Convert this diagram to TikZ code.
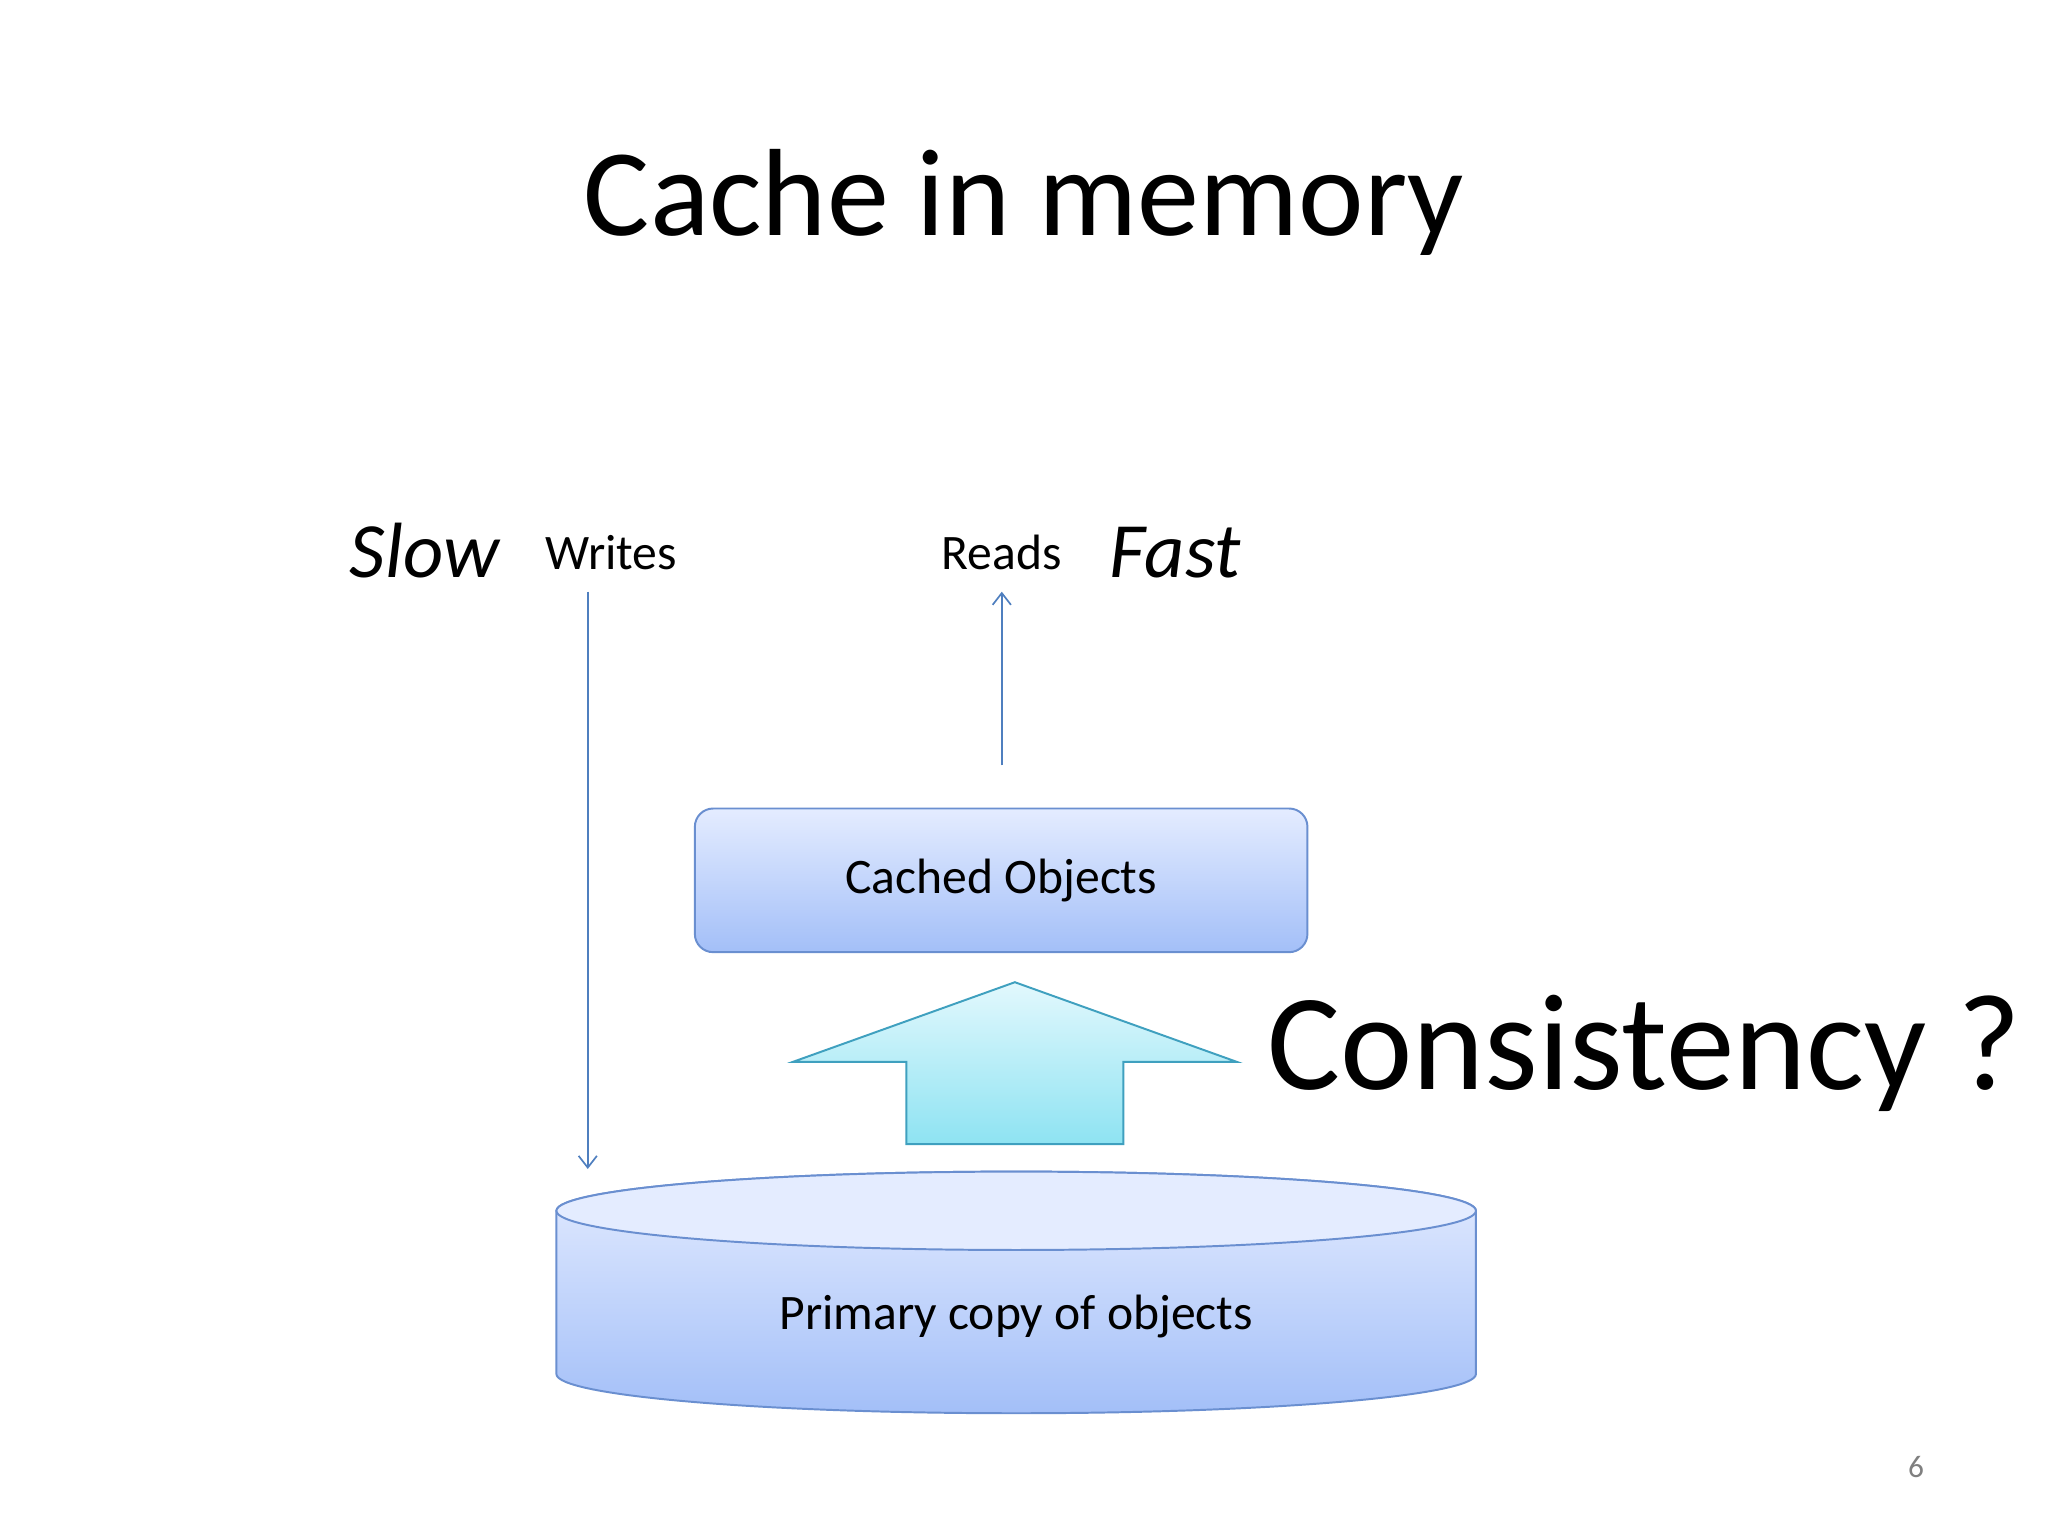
\documentclass[tikz,border=0pt]{standalone}
\usepackage{fontspec}
\setmainfont{Carlito}
\usetikzlibrary{arrows.meta}
\definecolor{bord}{HTML}{6A8FD0}
\definecolor{boxtop}{HTML}{E4ECFF}
\definecolor{boxbot}{HTML}{A3BFF8}
\definecolor{arrtop}{HTML}{E2F8FD}
\definecolor{arrbot}{HTML}{8EE3F2}
\definecolor{arrbord}{HTML}{3FA0BF}
\definecolor{lin}{HTML}{4F7FBF}
\begin{document}
\begin{tikzpicture}[x=1pt,y=-1pt,
  conn/.style={draw=lin,line width=1.3pt,-{Straight Barb[length=9pt,width=14pt]}},
  lbl/.style={inner sep=0pt,anchor=base}]
\useasboundingbox (0,0) rectangle (1568,1176);
\node[lbl,font=\fontsize{95}{95}\selectfont] (title) at (784,180) {Cache in memory};
\node[lbl,font=\fontsize{60}{60}\itshape] (slow) at (325,442) {Slow};
\node[lbl,font=\fontsize{60}{60}\itshape] (fast) at (900,442) {Fast};
\node[lbl,font=\fontsize{38}{38}\selectfont] (writes) at (468,436) {Writes};
\node[lbl,font=\fontsize{38}{38}\selectfont] (reads) at (767,436) {Reads};
% cached box
\node[draw=bord,line width=1.5pt,rounded corners=14pt,top color=boxtop,bottom color=boxbot,
  minimum width=469pt,minimum height=110pt,font=\fontsize{38}{38}\selectfont] (cache) at (766.5,674) {Cached Objects};
% big arrow
\shade[top color=arrtop,bottom color=arrbot,draw=arrbord,line width=1.5pt]
  (607,813) -- (777,752) -- (947,813) -- (860,813) -- (860,876) -- (694,876) -- (694,813) -- cycle;
\node[lbl,font=\fontsize{105}{105}\selectfont] (cons) at (1259,834) {Consistency ?};
% cylinder
\shade[top color=boxtop,bottom color=boxbot,draw=bord,line width=1.5pt]
  (426,927) -- (426,1052) arc[start angle=180,end angle=360,x radius=352pt,y radius=30pt]
  -- (1130,927) arc[start angle=0,end angle=180,x radius=352pt,y radius=30pt];
\draw[draw=bord,line width=1.5pt,fill=boxtop] (778,927) ellipse[x radius=352pt,y radius=30pt];
\node[lbl,font=\fontsize{38}{38}\selectfont] (prim) at (778,1018) {Primary copy of objects};
\coordinate (wtop) at (450,453);
\coordinate (wbot) at (450,895);
\coordinate (rbot) at (767,586);
\coordinate (rtop) at (767,453);
\draw[conn] (wtop) -- (wbot);
\draw[conn] (rbot) -- (rtop);
\node[lbl,font=\fontsize{24}{24}\selectfont,text=gray] (pg) at (1467,1131) {6};
\end{tikzpicture}
\end{document}
